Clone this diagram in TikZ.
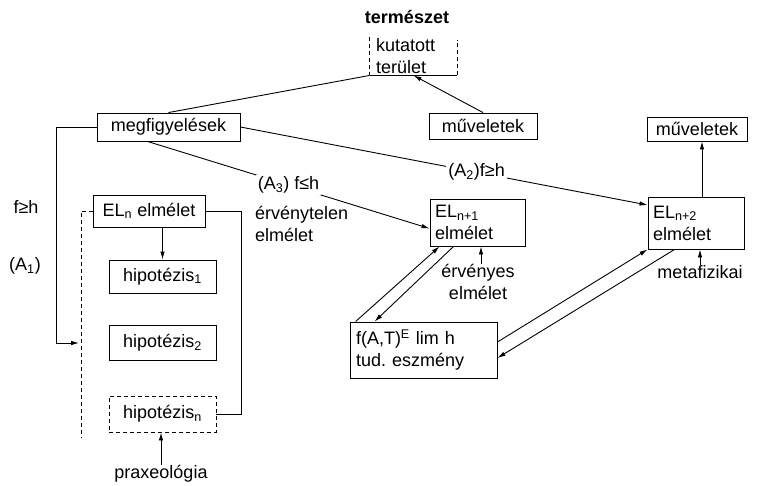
\documentclass[tikz,border=0pt]{standalone}
\usepackage{fontspec}
\setmainfont{Liberation Sans}
\usetikzlibrary{arrows.meta}
\frenchspacing

\begin{document}
\begin{tikzpicture}[x=1pt,y=-1pt,line width=0.9pt,
  font=\fontsize{18}{22}\selectfont,
  box/.style 2 args={draw,rectangle,minimum width=#1,minimum height=#2},
  arr/.style={-{Latex[length=8pt,width=4.5pt]}},
  cut/.style={fill=white,inner sep=2pt},
  dashline/.style={dash pattern=on 4pt off 3pt}]
\tikzstyle{every node}+=[inner sep=0pt]
\useasboundingbox (0,0) rectangle (759,486);
\node [font=\fontsize{18}{22}\selectfont\bfseries] (term) at (407,17) {természet};
\node [text width=75,align=left,minimum width=87,minimum height=38] (kut) at (413.5,56) {kutatott\\terület};
\draw [dashline] (kut.north west) -- (kut.south west);
\draw (kut.south west) -- (kut.south east);
\draw [dashline] (kut.south east) -- ([yshift=-3]kut.north east);
\node [box={143}{28}] (megf) at (168.5,127) {megfigyelések};
\node [box={108}{26}] (muv1) at (483,126) {műveletek};
\node [box={100}{24}] (muv2) at (697,129) {műveletek};
\node [box={112}{32}] (eln) at (149,211) {EL\textsubscript{n} elmélet};
\node [box={107}{33}] (hip1) at (162.5,276.5) {hipotézis\textsubscript{1}};
\node [box={107}{35}] (hip2) at (162.5,342.5) {hipotézis\textsubscript{2}};
\node [box={107}{36},dashline] (hipn) at (162.5,414) {hipotézis\textsubscript{n}};
\node [box={95}{47},text width=85,align=left] (eln1) at (477.5,222.5) {EL\textsubscript{n+1}\\elmélet};
\node [box={96}{52},text width=86,align=left] (eln2) at (696,223) {EL\textsubscript{n+2}\\elmélet};
\node [box={147}{56},text width=135,align=left] (fbox) at (423.5,350) {f(A,T)\textsuperscript{E} lim h\\tud. eszmény};
\node [text width=100,align=left] (nerv) at (305,224) {érvénytelen\\elmélet};
\node [align=center] (erv) at (478,282) {érvényes\\elmélet};
\node (meta) at (700,272) {metafizikai};
\node (prax) at (161,474) {praxeológia};
\node (fgh) at (26,207) {f≥h};
\node (aone) at (25,266) {(A\textsubscript{1})};
\coordinate (inl) at (79,343);
\coordinate (barend) at (81,438);
\draw (megf.north) -- (kut.south west);
\draw [arr] (muv1.north) -- (kut.south);
\draw [arr] (megf.east) -- node [cut,pos=0.58] (atwo) {(A\textsubscript{2})f≥h} ([yshift=18]eln2.west);
\draw [arr] ([xshift=-21]megf.south) -- node [cut,pos=0.5] (athree) {(A\textsubscript{3}) f≤h} ([yshift=-6]eln1.west);
\draw [arr] (eln.south -| hip1.north) -- (hip1.north);
\draw [arr] ([xshift=3]erv.north) -- ([xshift=3]erv.north |- eln1.south);
\draw [arr] ([xshift=6]fbox.north west) -- ([xshift=10]eln1.south west);
\draw [arr] ([xshift=24]eln1.south west) -- ([xshift=25]fbox.north west);
\draw [arr] ([yshift=8]fbox.east) -- (eln2.south west);
\draw [arr] ([xshift=27]eln2.south west) -- ([yshift=-8]fbox.east);
\draw [arr] ([xshift=6]eln2.north) -- ([xshift=6]eln2.north |- muv2.south);
\draw [arr] (meta.north) -- (meta.north |- eln2.south);
\draw [arr] (prax.north) -- (prax.north |- hipn.south);
\draw [arr] (megf.west) -- ++(-40,0) |- (inl);
\draw [dashline] (eln.west) -| (barend);
\draw (hipn.east) -- ++(25,0) |- (eln.east);
\end{tikzpicture}
\end{document}
